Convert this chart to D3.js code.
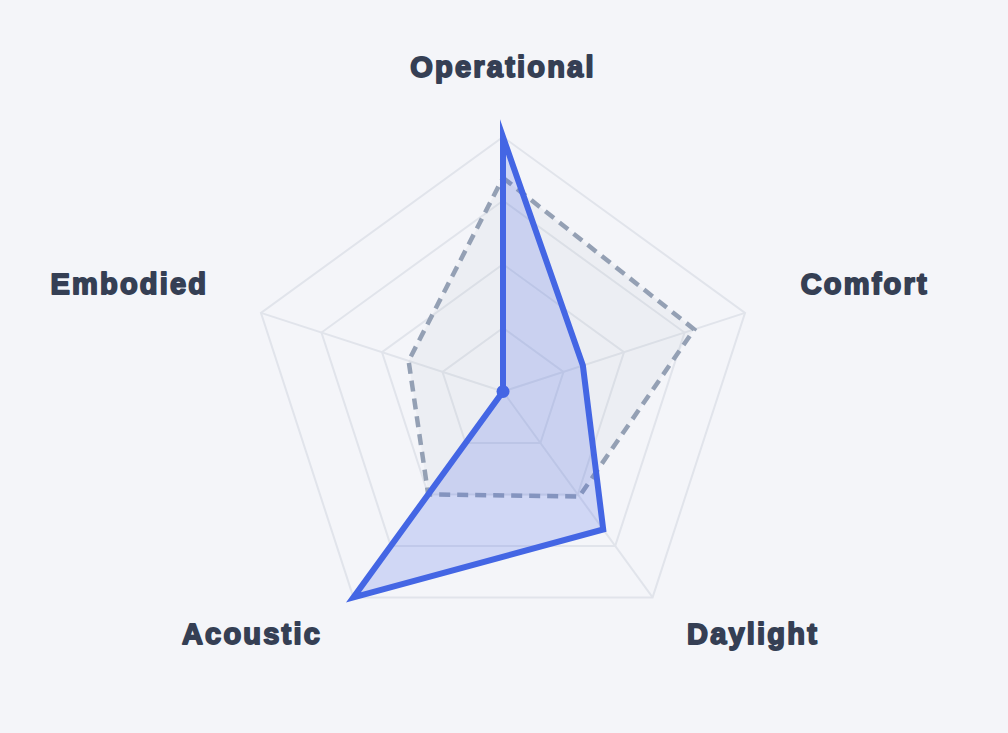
<!DOCTYPE html>
<html lang="en">
<head>
    <meta charset="UTF-8">
    <title>Radar</title>
    <script src="https://d3js.org/d3.v7.min.js"></script>
    <style>
        html, body { margin: 0; padding: 0; background: #f4f5f9; }
        svg { display: block; }
        .label { font-family: "Liberation Sans", Arial, sans-serif; font-weight: bold; fill: #353f54; }
    </style>
</head>
<body>
<svg width="1008" height="733"></svg>
<script type="text/javascript">

    // axes, clockwise from the top
    var axes = ["Operational", "Comfort", "Daylight", "Acoustic", "Embodied"];
    // current design (solid blue)
    var design = [100, 33, 67, 100, 0];
    // reference / benchmark (dashed grey)
    var benchmark = [84, 79, 51, 50, 39];
    var levels = [25, 50, 75, 100];

    var width = 1008, height = 733;
    var cx = 503, cy = 391.5, R = 254.5;

    var svg = d3.select("svg");
    var g = svg.append("g").attr("transform", "translate(" + cx + "," + cy + ")");

    var r = d3.scaleLinear().domain([0, 100]).range([0, R]);
    var angle = d3.scalePoint().domain(axes).range([0, 2 * Math.PI * (axes.length - 1) / axes.length]);

    function pt(axis, v) {
        var a = angle(axis);
        return [Math.sin(a) * r(v), -Math.cos(a) * r(v)];
    }

    var radial = d3.lineRadial()
        .angle(function(d, i) { return angle(axes[i]); })
        .radius(function(d) { return r(d); })
        .curve(d3.curveLinearClosed);

    // grid rings
    g.selectAll(".ring")
        .data(levels)
        .enter().append("path")
        .attr("class", "ring")
        .attr("d", function(l) { return radial(axes.map(function() { return l; })); })
        .attr("fill", "none")
        .attr("stroke", "#e1e4eb")
        .attr("stroke-width", 2);

    // spokes
    g.selectAll(".spoke")
        .data(axes)
        .enter().append("line")
        .attr("class", "spoke")
        .attr("x1", 0).attr("y1", 0)
        .attr("x2", function(d) { return pt(d, 100)[0]; })
        .attr("y2", function(d) { return pt(d, 100)[1]; })
        .attr("stroke", "#e1e4eb")
        .attr("stroke-width", 2);

    // benchmark shape
    g.append("path")
        .attr("d", radial(benchmark))
        .attr("fill", "#94a3b8")
        .attr("fill-opacity", 0.08)
        .attr("stroke", "#94a0b4")
        .attr("stroke-width", 4.5)
        .attr("stroke-dasharray", "11,7");

    // design shape
    g.append("path")
        .attr("d", radial(design))
        .attr("fill", "#4a66e8")
        .attr("fill-opacity", 0.21)
        .attr("stroke", "#4466e4")
        .attr("stroke-width", 6)
        .attr("stroke-linejoin", "miter")
        .attr("stroke-miterlimit", 10);

    // dot where a value sits at the centre
    g.selectAll(".dot")
        .data(axes.filter(function(d, i) { return design[i] === 0; }))
        .enter().append("circle")
        .attr("class", "dot")
        .attr("cx", function(d) { return pt(d, 0)[0]; })
        .attr("cy", function(d) { return pt(d, 0)[1]; })
        .attr("r", 6.5)
        .attr("fill", "#4466e4");

    // labels
    function side(d) {
        var x = pt(d, 100)[0];
        return Math.abs(x) < 1 ? 0 : (x > 0 ? 1 : -1);
    }
    g.selectAll(".label")
        .data(axes)
        .enter().append("text")
        .attr("class", "label")
        .attr("x", function(d) { return pt(d, 123)[0] + (side(d) < 0 ? 3 : 0); })
        .attr("y", function(d) { return pt(d, 123)[1] - 1; })
        .attr("text-anchor", function(d) {
            var s = side(d);
            return s === 0 ? "middle" : (s > 0 ? "start" : "end");
        })
        .style("font-size", "29px")
        .style("letter-spacing", "2.2px")
        .attr("stroke", "#353f54")
        .attr("stroke-width", 1.8)
        .attr("stroke-linejoin", "round")
        .text(function(d) { return d; });

</script>
</body>
</html>
